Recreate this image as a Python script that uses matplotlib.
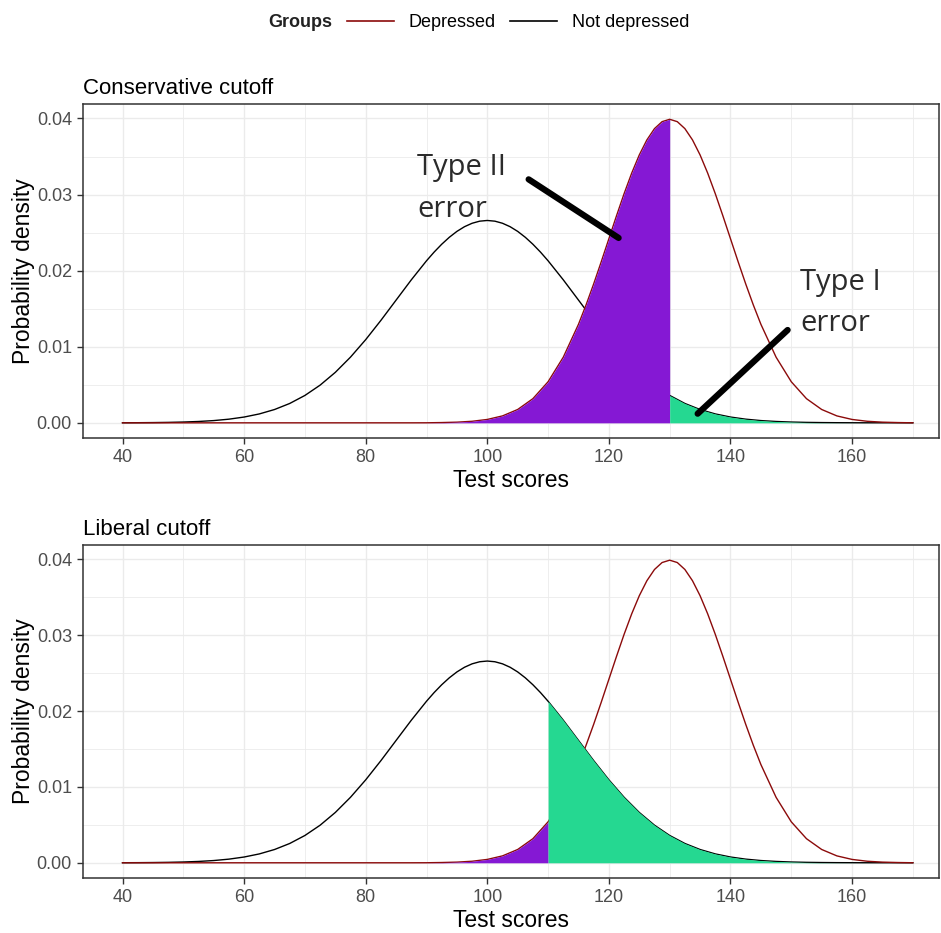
import numpy as np
import matplotlib
matplotlib.use("Agg")
import matplotlib.pyplot as plt
from matplotlib.lines import Line2D

plt.rcParams['font.family'] = ['Liberation Sans', 'DejaVu Sans']

# not depressed group: test scores and density
scores_no = [40, 42.5, 45, 47.5, 50, 52.5, 55, 57.5, 60, 62.5, 65, 67.5, 70,
             72.5, 75, 77.5, 80, 82.5, 85, 87.5, 90, 91.25, 92.5, 93.75, 95,
             96.25, 97.5, 98.75, 100, 101.25, 102.5, 103.75, 105, 106.25,
             107.5, 108.75, 110, 112.5, 115, 117.5, 120, 122.5, 125, 127.5,
             130, 132.5, 135, 137.5, 140, 142.5, 145, 147.5, 150, 152.5, 155,
             157.5, 160, 162.5, 165, 167.5, 170]
not_depressed = [0.000009, 0.000017, 0.000032, 0.000058, 0.000103, 0.000177,
                 0.000295, 0.000480, 0.000760, 0.001169, 0.001748, 0.002544,
                 0.003599, 0.004953, 0.006633, 0.008636, 0.010934, 0.013466,
                 0.016131, 0.018793, 0.021296, 0.022437, 0.023471, 0.024385,
                 0.025160, 0.025778, 0.026229, 0.026504, 0.026596, 0.026504,
                 0.026229, 0.025778, 0.025160, 0.024385, 0.023471, 0.022437,
                 0.021296, 0.018793, 0.016131, 0.013466, 0.010934, 0.008636,
                 0.006633, 0.004953, 0.003599, 0.002544, 0.001748, 0.001169,
                 0.000760, 0.000480, 0.000295, 0.000177, 0.000103, 0.000058,
                 0.000032, 0.000017, 0.000009, 0.000004, 0.000002, 0.000001,
                 0.000000]

# depressed group: test scores and density
scores_dep = [40, 42.5, 45, 47.5, 50, 52.5, 55, 57.5, 60, 62.5, 65, 67.5, 70,
              72.5, 75, 77.5, 80, 82.5, 85, 87.5, 90, 92.5, 95, 97.5, 100,
              102.5, 105, 107.5, 110, 112.5, 115, 116.25, 117.5, 118.75, 120,
              121.25, 122.5, 123.75, 125, 126.25, 127.5, 128.75, 130, 131.25,
              132.5, 133.75, 135, 136.25, 137.5, 138.75, 140, 141.25, 142.5,
              143.75, 145, 147.5, 150, 152.5, 155, 157.5, 160, 162.5, 165,
              167.5, 170]
depressed = [0, 0, 0, 0, 0, 0, 0, 0, 0, 0, 0, 0, 0, 0, 0, 0, 0, 0, 0, 0,
             0.000005, 0.000035, 0.000087, 0.000203, 0.000443, 0.000909,
             0.001753, 0.003174, 0.005399, 0.008628, 0.012952, 0.015503,
             0.018265, 0.021188, 0.024197, 0.027204, 0.030114, 0.032817,
             0.035207, 0.037185, 0.038667, 0.039583, 0.039894, 0.039583,
             0.038667, 0.037185, 0.035207, 0.032817, 0.030114, 0.027204,
             0.024197, 0.021188, 0.018265, 0.015503, 0.012952, 0.008628,
             0.005399, 0.003174, 0.001753, 0.000909, 0.000443, 0.000203,
             0.000087, 0.000035, 0.000005]

panel_titles = ["Conservative cutoff", "Liberal cutoff"]
cutoffs = [130, 110]

x_no, y_no = np.array(scores_no), np.array(not_depressed)
x_dep, y_dep = np.array(scores_dep), np.array(depressed)

RED = "#8B0A0A"
PURPLE = "#8518D4"
GREEN = "#25D891"

fig = plt.figure(figsize=(9.41, 9.33), dpi=100)
ax_top = fig.add_axes([0.0882, 0.5305, 0.9097, 0.3580])
ax_bot = fig.add_axes([0.0882, 0.0590, 0.9097, 0.3569])

for ax, title, cut in zip([ax_top, ax_bot], panel_titles, cutoffs):
    ax.plot(x_no, y_no, color="black", lw=1.0, zorder=3)
    ax.plot(x_dep, y_dep, color=RED, lw=1.0, zorder=3)
    # shaded error areas go over the lines
    left = x_dep <= cut
    right = x_no >= cut
    ax.fill_between(x_dep[left], 0, y_dep[left], color=PURPLE, lw=0, zorder=4)
    ax.fill_between(x_no[right], 0, y_no[right], color=GREEN, lw=0, zorder=4)

    ax.set_xlim(33.5, 174.3)
    ax.set_ylim(-0.0020, 0.0419)
    ax.set_xticks([40, 60, 80, 100, 120, 140, 160])
    ax.set_xticks([50, 70, 90, 110, 130, 150, 170], minor=True)
    ax.set_yticks([0, 0.01, 0.02, 0.03, 0.04])
    ax.set_yticks([0.005, 0.015, 0.025, 0.035], minor=True)
    ax.set_yticklabels(["0.00", "0.01", "0.02", "0.03", "0.04"])
    ax.grid(which="major", color="#EBEBEB", lw=1.0, zorder=0)
    ax.grid(which="minor", color="#EBEBEB", lw=0.6, zorder=0)
    ax.set_axisbelow(True)
    ax.tick_params(which="major", length=4, width=1, color="#333333",
                   labelsize=13, labelcolor="#4D4D4D", pad=4)
    ax.tick_params(which="minor", length=0)
    for s in ax.spines.values():
        s.set_color("#333333")
        s.set_linewidth(1.1)
    ax.set_xlabel("Test scores", fontsize=16.5, labelpad=2)
    ax.set_ylabel("Probability density", fontsize=16.5, labelpad=1)
    ax.set_title(title, loc="left", fontsize=16, pad=7)

# callouts on the conservative panel
ann = dict(family="Open Sans", fontsize=21, color="#2B2B2B", va="center", ha="left", zorder=6)
ax_top.text(88.5, 0.0335, "Type II", **ann)
ax_top.text(88.5, 0.0281, "error", **ann)
ax_top.plot([106.8, 121.6], [0.0320, 0.0243], color="black", lw=4.5,
            solid_capstyle="round", zorder=6)
ax_top.text(151.5, 0.0185, "Type I", **ann)
ax_top.text(151.5, 0.0131, "error", **ann)
ax_top.plot([149.4, 134.6], [0.0122, 0.0012], color="black", lw=4.5,
            solid_capstyle="round", zorder=6)

# legend row at the top
fig.text(0.3528, 0.976, "Groups", fontsize=13, fontweight="bold",
         ha="right", va="center", color="#222222")
handles = [Line2D([], [], color=RED, lw=1.2), Line2D([], [], color="black", lw=1.2)]
fig.legend(handles, ["Depressed", "Not depressed"], ncol=2, frameon=False,
           loc="center left", bbox_to_anchor=(0.369, 0.976), fontsize=13,
           handlelength=2.6, handletextpad=0.8, columnspacing=0.8,
           borderaxespad=0, borderpad=0)

fig.savefig("out.png", dpi=100)
